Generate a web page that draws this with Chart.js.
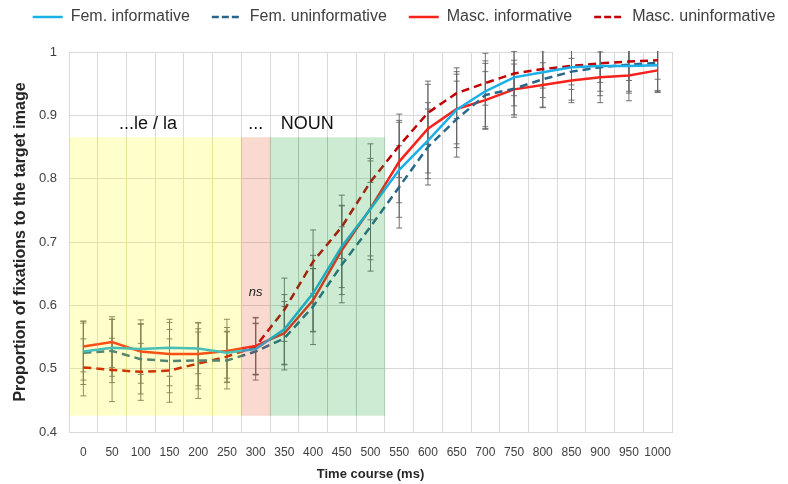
<!DOCTYPE html>
<html>
<head>
<meta charset="utf-8">
<script src="https://cdn.jsdelivr.net/npm/chart.js@4.4.1/dist/chart.umd.min.js"></script>
<style>
  html, body { margin: 0; padding: 0; background: #fff; }
</style>
</head>
<body>
<canvas id="chart" width="788" height="484"></canvas>
<script>
// time bins (ms)
const timeLabels = ["0", "50", "100", "150", "200", "250", "300", "350", "400", "450", "500",
    "550", "600", "650", "700", "750", "800", "850", "900", "950", "1000"];

// mean proportion of fixations to the target image
const femInformative = [0.527, 0.533, 0.531, 0.533, 0.532, 0.525, 0.531, 0.562, 0.619, 0.693, 0.752,
    0.814, 0.860, 0.909, 0.938, 0.960, 0.968, 0.976, 0.978, 0.978, 0.979];
const femUninformative = [0.525, 0.528, 0.515, 0.512, 0.513, 0.513, 0.527, 0.548, 0.598, 0.664, 0.724,
    0.787, 0.850, 0.894, 0.932, 0.942, 0.957, 0.969, 0.976, 0.980, 0.983];
const mascInformative = [0.535, 0.542, 0.527, 0.523, 0.523, 0.528, 0.536, 0.556, 0.608, 0.687, 0.753,
    0.827, 0.879, 0.910, 0.924, 0.941, 0.948, 0.955, 0.960, 0.963, 0.971];
const mascUninformative = [0.502, 0.498, 0.495, 0.497, 0.508, 0.519, 0.535, 0.593, 0.669, 0.724, 0.795,
    0.852, 0.904, 0.935, 0.951, 0.966, 0.973, 0.978, 0.982, 0.985, 0.987];

// error bar half lengths
const femInformativeErr = [0.045, 0.045, 0.04, 0.045, 0.04, 0.04, 0.04, 0.055, 0.06, 0.065, 0.08,
    0.075, 0.06, 0.06, 0.06, 0.045, 0.04, 0.035, 0.04, 0.04, 0.04];
const femUninformativeErr = [0.05, 0.05, 0.055, 0.05, 0.045, 0.045, 0.045, 0.05, 0.06, 0.06, 0.07,
    0.065, 0.06, 0.06, 0.05, 0.045, 0.045, 0.045, 0.045, 0.045, 0.045];
const mascInformativeErr = [0.04, 0.04, 0.05, 0.05, 0.05, 0.05, 0.045, 0.05, 0.05, 0.07, 0.075,
    0.065, 0.07, 0.055, 0.045, 0.04, 0.035, 0.035, 0.04, 0.04, 0.035];
const mascUninformativeErr = [0.045, 0.05, 0.045, 0.05, 0.055, 0.04, 0.045, 0.05, 0.05, 0.05, 0.06,
    0.05, 0.05, 0.04, 0.035, 0.035, 0.03, 0.03, 0.03, 0.03, 0.03];

// which part of the sentence each bin belongs to (shaded windows)
const binRegion = ["det", "det", "det", "det", "det", "det", "gap", "noun", "noun", "noun", "noun",
    null, null, null, null, null, null, null, null, null, null];
const shadeRange = [0.426, 0.865];

const seriesNames = ["Fem. informative", "Fem. uninformative", "Masc. informative", "Masc. uninformative"];

function regionData(name) {
    return binRegion.map(r => r === name ? shadeRange.slice() : null);
}

function lineSet(label, data, err, color, dashed) {
    return {
        type: "line",
        label: label,
        data: data,
        errors: err,
        borderColor: color,
        backgroundColor: color,
        borderWidth: 2.5,
        borderDash: dashed ? [8, 5] : [],
        pointRadius: 0,
        tension: 0,
        fill: false,
        order: 1
    };
}

function shadeSet(label, name, color) {
    return {
        type: "bar",
        label: label,
        data: regionData(name),
        backgroundColor: color,
        borderWidth: 0,
        grouped: false,
        barPercentage: 1,
        categoryPercentage: 1,
        order: 0
    };
}

// error bars, drawn under the lines and the shading
const errorBars = {
    id: "errorBars",
    beforeDatasetsDraw(chart) {
        const ctx = chart.ctx;
        const y = chart.scales.y;
        const area = chart.chartArea;
        ctx.save();
        ctx.beginPath();
        ctx.rect(area.left, area.top - 1, area.right - area.left, area.bottom - area.top + 2);
        ctx.clip();
        ctx.strokeStyle = "rgba(100,100,100,0.9)";
        ctx.lineWidth = 1;
        chart.data.datasets.forEach((ds, di) => {
            if (!ds.errors) return;
            const meta = chart.getDatasetMeta(di);
            meta.data.forEach((pt, i) => {
                const v = ds.data[i], e = ds.errors[i];
                const top = y.getPixelForValue(v + e);
                const bot = y.getPixelForValue(v - e);
                ctx.beginPath();
                ctx.moveTo(pt.x, top); ctx.lineTo(pt.x, bot);
                ctx.moveTo(pt.x - 3, top); ctx.lineTo(pt.x + 3, top);
                ctx.moveTo(pt.x - 3, bot); ctx.lineTo(pt.x + 3, bot);
                ctx.stroke();
            });
        });
        ctx.restore();
    }
};

// labels of the sentence regions
const regionText = {
    id: "regionText",
    afterDraw(chart) {
        const ctx = chart.ctx;
        const x = chart.scales.x;
        const y = chart.scales.y;
        ctx.save();
        ctx.fillStyle = "#111";
        ctx.textAlign = "center";
        ctx.textBaseline = "alphabetic";
        ctx.font = "18px 'Liberation Sans', Arial, sans-serif";
        ctx.fillText("...le / la", x.getPixelForValue(2.25), y.getPixelForValue(0.879));
        ctx.fillText("...", x.getPixelForValue(6), y.getPixelForValue(0.879));
        ctx.fillText("NOUN", x.getPixelForValue(7.8), y.getPixelForValue(0.879));
        ctx.font = "italic 13px 'Liberation Sans', Arial, sans-serif";
        ctx.fillStyle = "#222";
        ctx.fillText("ns", x.getPixelForValue(6), y.getPixelForValue(0.614));
        ctx.restore();
    }
};

// give the legend the full band above the plot
const legendBand = {
    id: "legendBand",
    beforeInit(chart) {
        const fit = chart.legend.fit;
        chart.legend.fit = function () {
            fit.call(this);
            this.height = 65;
        };
    },
    afterLayout(chart) {
        chart.legend.left += 10;
        chart.legend.right += 10;
    }
};

new Chart(document.getElementById("chart"), {
    type: "line",
    data: {
        labels: timeLabels,
        datasets: [
            lineSet(seriesNames[0], femInformative, femInformativeErr, "#1AAFE6", false),
            lineSet(seriesNames[1], femUninformative, femUninformativeErr, "#27678A", true),
            lineSet(seriesNames[2], mascInformative, mascInformativeErr, "#F5231B", false),
            lineSet(seriesNames[3], mascUninformative, mascUninformativeErr, "#C00000", true),
            shadeSet("det", "det", "rgba(255,255,0,0.2)"),
            shadeSet("gap", "gap", "rgba(230,80,40,0.22)"),
            shadeSet("noun", "noun", "rgba(40,170,60,0.23)")
        ]
    },
    options: {
        responsive: false,
        animation: false,
        layout: { padding: { top: -13, left: 0, right: 0, bottom: 0 } },
        plugins: {
            tooltip: { enabled: false },
            legend: {
                position: "top",
                labels: {
                    usePointStyle: true,
                    pointStyle: "line",
                    pointStyleWidth: 30,
                    padding: 22,
                    color: "#404040",
                    font: { family: "'Liberation Sans', Arial, sans-serif", size: 16 },
                    generateLabels(chart) {
                        return Chart.defaults.plugins.legend.labels.generateLabels(chart)
                            .filter(item => item.datasetIndex < 4)
                            .map(item => {
                                const ds = chart.data.datasets[item.datasetIndex];
                                item.lineDash = ds.borderDash.length ? [7, 3] : [];
                                item.lineWidth = 2.5;
                                item.strokeStyle = ds.borderColor;
                                item.pointStyle = "line";
                                return item;
                            });
                    }
                }
            }
        },
        scales: {
            x: {
                type: "category",
                offset: true,
                grid: { offset: true, color: "#D9D9D9", drawTicks: false },
                border: { color: "#D9D9D9" },
                ticks: {
                    padding: 13,
                    color: "#404040",
                    maxRotation: 0,
                    autoSkip: false,
                    font: { family: "'Liberation Sans', Arial, sans-serif", size: 12 }
                },
                title: {
                    display: true,
                    text: "Time course (ms)",
                    color: "#262626",
                    padding: { top: 4, bottom: 2 },
                    font: { family: "'Liberation Sans', Arial, sans-serif", size: 13, weight: "bold" }
                },
                afterFit(scale) { scale.height = 52; }
            },
            y: {
                min: 0.4,
                max: 1,
                grid: { color: "#D9D9D9", drawTicks: false },
                border: { color: "#D9D9D9" },
                ticks: {
                    stepSize: 0.1,
                    padding: 12,
                    color: "#404040",
                    font: { family: "'Liberation Sans', Arial, sans-serif", size: 13 },
                    callback: v => String(Number(v.toFixed(1)))
                },
                title: {
                    display: true,
                    text: "Proportion of fixations to the target image",
                    color: "#262626",
                    padding: { top: 11, bottom: 0 },
                    font: { family: "'Liberation Sans', Arial, sans-serif", size: 16, weight: "bold" }
                },
                afterFit(scale) { scale.width = 69; }
            },
            yPad: {
                position: "right",
                display: true,
                grid: { display: false, drawTicks: false },
                border: { display: false },
                ticks: { display: false },
                afterFit(scale) { scale.width = 116; }
            }
        }
    },
    plugins: [errorBars, regionText, legendBand]
});
</script>
</body>
</html>
